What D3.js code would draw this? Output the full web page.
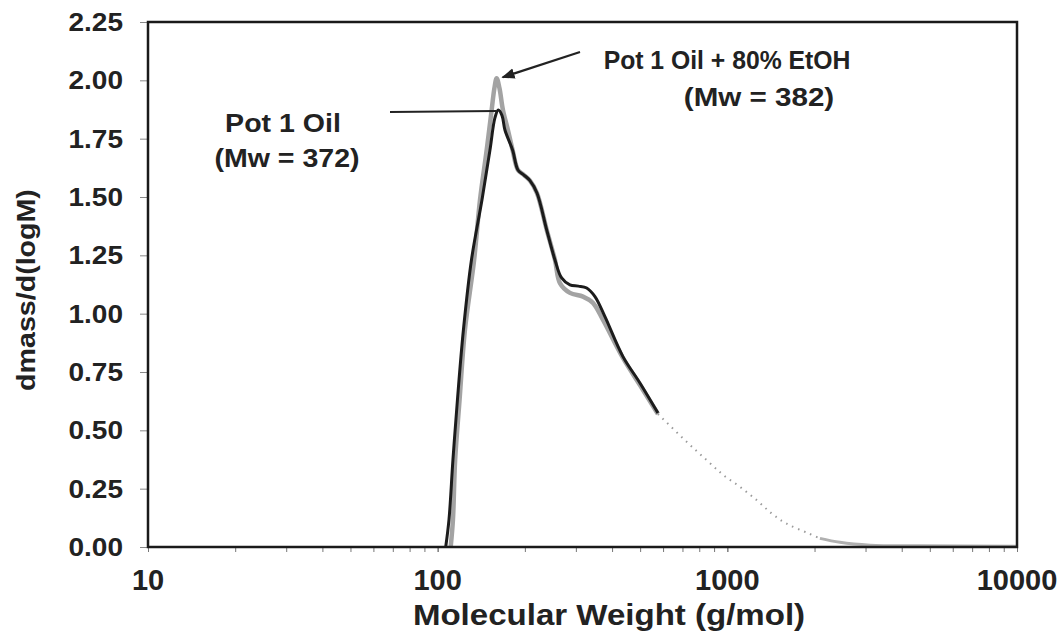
<!DOCTYPE html>
<html>
<head>
<meta charset="utf-8">
<script src="https://cdn.jsdelivr.net/npm/d3@7"></script>
<style>
  html, body { margin: 0; padding: 0; background: #fff; }
  svg { display: block; }
  text { font-family: "Liberation Sans", Arial, sans-serif; font-weight: bold; fill: #222; }
</style>
</head>
<body>
<svg id="chart" width="1061" height="641"></svg>
<script>
// Molecular weight distributions (dmass/d(logM) vs M, g/mol)
const oilMW = [106.6, 109.4, 112.9, 117.0, 122.7, 130.8, 142.2, 151.5, 157.7, 161.9, 166.7, 170.7,
  181.5, 189.3, 198.6, 208.3, 220.2, 237.9, 254.1, 267.9, 286.2, 306, 326.9, 349.2, 378, 436.1, 499.2, 576];
const oilValues = [0, 0.116, 0.373, 0.63, 0.93, 1.23, 1.487, 1.70, 1.84, 1.873, 1.85, 1.787,
  1.70, 1.616, 1.594, 1.57, 1.517, 1.359, 1.23, 1.153, 1.123, 1.118, 1.11, 1.073, 0.987, 0.816, 0.703, 0.574];

const etohMW = [110.9, 112.9, 114.9, 119.0, 124.2, 133.6, 140.0, 147.6, 153.6, 157.0, 159.8, 163.4,
  168.0, 174.8, 181.5, 189.3, 198.6, 208.3, 220.2, 237.9, 254.1, 264.3, 286.2, 317.5, 343.6, 372.2,
  436.1, 499.2, 576, 723.7, 859.3, 967.9, 1105.6, 1262.3, 1422, 1602, 1902, 2088, 2447, 3107, 4624, 10000];
const etohValues = [0, 0.116, 0.373, 0.63, 0.93, 1.23, 1.487, 1.70, 1.873, 1.967, 2.009, 1.967,
  1.873, 1.787, 1.70, 1.616, 1.594, 1.57, 1.517, 1.359, 1.23, 1.131, 1.089, 1.073, 1.046, 0.973,
  0.81, 0.694, 0.57, 0.451, 0.366, 0.309, 0.258, 0.201, 0.144, 0.10, 0.059, 0.037, 0.02, 0.008, 0.005, 0.003];

const xTickValues = [10, 100, 1000, 10000];
const xTickLabels = ["10", "100", "1000", "10000"];
const yTickValues = [0, 0.25, 0.5, 0.75, 1.0, 1.25, 1.5, 1.75, 2.0, 2.25];
const yTickLabels = ["0.00", "0.25", "0.50", "0.75", "1.00", "1.25", "1.50", "1.75", "2.00", "2.25"];

const oilLabel = ["Pot 1 Oil", "(Mw = 372)"];
const etohLabel = ["Pot 1 Oil + 80% EtOH", "(Mw = 382)"];
const xTitle = "Molecular Weight (g/mol)";
const yTitle = "dmass/d(logM)";

const svg = d3.select("#chart");
const plotLeft = 148, plotRight = 1017, plotTop = 22, plotBottom = 547;

const x = d3.scaleLog().domain([10, 10000]).range([plotLeft, plotRight]);
const y = d3.scaleLinear().domain([0, 2.25]).range([plotBottom, plotTop]);

// text helper with a slight horizontal stretch
function label(g, str, px, py, size, anchor, sx) {
  return g.append("text")
    .attr("transform", `translate(${px},${py}) scale(${sx},1)`)
    .attr("text-anchor", anchor)
    .style("font-size", size + "px")
    .text(str);
}

// axes: minor log ticks on the bottom, value ticks on the left
const minorTicks = [];
[10, 100, 1000].forEach(d => { for (let k = 1; k <= 10; k++) minorTicks.push(d * k); });
const xAxis = d3.axisBottom(x).tickValues(minorTicks).tickSize(5).tickFormat("");
svg.append("g").attr("transform", `translate(0,${plotBottom})`).call(xAxis)
  .call(g => g.select(".domain").remove())
  .call(g => g.selectAll("line").attr("stroke", "#777").attr("stroke-width", 1));

const yAxis = d3.axisLeft(y).tickValues(yTickValues).tickSize(8).tickFormat("");
svg.append("g").attr("transform", `translate(${plotLeft},0)`).call(yAxis)
  .call(g => g.select(".domain").remove())
  .call(g => g.selectAll("line").attr("stroke", "#888").attr("stroke-width", 1));

const labels = svg.append("g");
yTickValues.forEach((v, i) => label(labels, yTickLabels[i], 123, y(v) + 9, 25, "end", 1.12));
xTickValues.forEach((v, i) => label(labels, xTickLabels[i], x(v), 590, 29, "middle", 1.0));

label(labels, xTitle, 609, 625, 29, "middle", 1.14);
labels.append("text")
  .attr("transform", `translate(35,290) rotate(-90) scale(1.1,1)`)
  .attr("text-anchor", "middle")
  .style("font-size", "26px")
  .text(yTitle);

// curves
const line = d3.line()
  .x(d => x(d[0]))
  .y(d => y(d[1]))
  .curve(d3.curveCatmullRom.alpha(0.5));

const etoh = etohMW.map((m, i) => [m, etohValues[i]]);
const oil = oilMW.map((m, i) => [m, oilValues[i]]);

svg.append("path").datum(etoh.filter(d => d[0] <= 576))
  .attr("fill", "none").attr("stroke", "#a3a3a3").attr("stroke-width", 4.5)
  .attr("stroke-linejoin", "round").attr("d", line);
svg.append("path").datum(etoh.filter(d => d[0] >= 576 && d[0] <= 2088))
  .attr("fill", "none").attr("stroke", "#9a9a9a").attr("stroke-width", 2)
  .attr("stroke-dasharray", "1.5 5").attr("d", line);
svg.append("path").datum(etoh.filter(d => d[0] >= 2088))
  .attr("fill", "none").attr("stroke", "#b0b0b0").attr("stroke-width", 3).attr("d", line);

svg.append("path").datum(oil)
  .attr("fill", "none").attr("stroke", "#1c1c1c").attr("stroke-width", 3)
  .attr("stroke-linejoin", "round").attr("d", line);

// plot frame
svg.append("rect")
  .attr("x", plotLeft).attr("y", plotTop)
  .attr("width", plotRight - plotLeft).attr("height", plotBottom - plotTop)
  .attr("fill", "none").attr("stroke", "#1a1a1a").attr("stroke-width", 2.5);

// annotations
const oilPeak = oil[d3.maxIndex(oilValues)];
const etohPeak = etoh[d3.maxIndex(etohValues)];

label(labels, oilLabel[0], 283, 132, 25.5, "middle", 1.12);
label(labels, oilLabel[1], 287, 167, 25.5, "middle", 1.12);
svg.append("line")
  .attr("x1", 390).attr("y1", y(oilPeak[1]) + 2)
  .attr("x2", x(oilPeak[0]) - 2).attr("y2", y(oilPeak[1]) + 1)
  .attr("stroke", "#222").attr("stroke-width", 2);

label(labels, etohLabel[0], 727, 69, 25, "middle", 0.99);
label(labels, etohLabel[1], 759, 106, 25.5, "middle", 1.16);

svg.append("defs").append("marker")
  .attr("id", "arrow").attr("viewBox", "0 0 10 10")
  .attr("refX", 9).attr("refY", 5)
  .attr("markerWidth", 6).attr("markerHeight", 6)
  .attr("orient", "auto")
  .append("path").attr("d", "M0,1 L10,5 L0,9 Z").attr("fill", "#222");
svg.append("line")
  .attr("x1", 580).attr("y1", 52)
  .attr("x2", x(etohPeak[0]) + 6).attr("y2", y(etohPeak[1]) - 1)
  .attr("stroke", "#222").attr("stroke-width", 2.2)
  .attr("marker-end", "url(#arrow)");
</script>
</body>
</html>
